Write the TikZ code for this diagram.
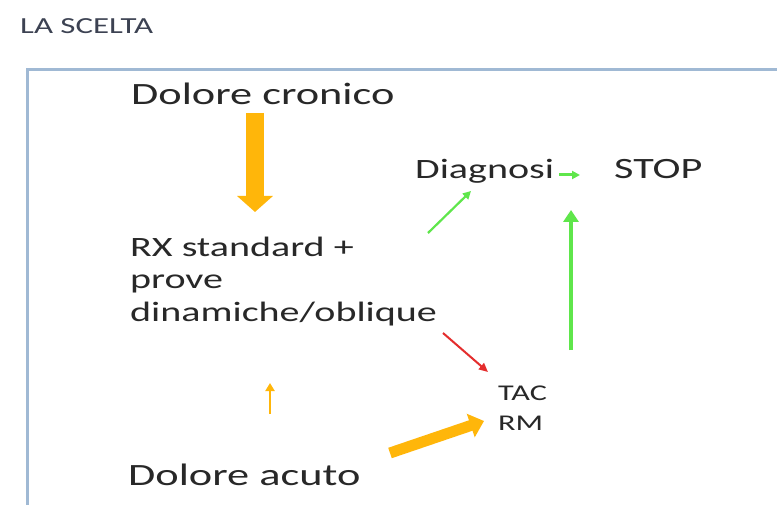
\documentclass[tikz,border=0pt]{standalone}
\usepackage{fontspec}
\setmainfont[FakeStretch=1.43]{Carlito}
\usetikzlibrary{arrows.meta}
\definecolor{boxblue}{RGB}{160,185,212}
\definecolor{txt}{RGB}{40,40,40}
\definecolor{ttl}{RGB}{60,66,82}
\definecolor{orng}{RGB}{255,182,10}
\definecolor{grn}{RGB}{95,230,75}
\definecolor{rd}{RGB}{228,45,45}
\begin{document}
\begin{tikzpicture}[x=1pt,y=-1pt,
  lbl/.style={anchor=base west,inner sep=0pt,text=txt},
  big/.style={lbl,font=\fontsize{31}{36}\selectfont},
  mid/.style={lbl,font=\fontsize{28}{32}\selectfont},
  sml/.style={lbl,font=\fontsize{22.5}{30}\selectfont},
  ttlstyle/.style={anchor=base west,inner sep=0pt,text=ttl,font=\fontsize{23}{24}\selectfont},
  fatarrow/.style={orng,line width=18pt,-{Triangle[width=35pt,length=16pt]}},
  diagarrow/.style={orng,line width=11pt,-{Triangle[width=24pt,length=14pt]}},
  thinorng/.style={orng,line width=2.5pt,-{Triangle[width=9pt,length=8pt]}},
  greenarrow/.style={grn,line width=2.2pt,-{Triangle[width=8pt,length=8pt]}},
  greenthick/.style={grn,line width=3.5pt,-{Triangle[width=15pt,length=12pt]}},
  redarrow/.style={rd,line width=2pt,-{Triangle[width=8pt,length=9pt]}}]
\useasboundingbox (0,0) rectangle (777,505);
\fill[white] (0,0) rectangle (777,505);
% frame
\draw[boxblue,line width=3pt] (27,505) -- (27,70) -- (777,70);
% title
\node[ttlstyle] (title) at (20,34) {LA SCELTA};
% texts
\node[big] (cron) at (131,105) {Dolore cronico};
\node[mid] (rx1) at (130,257) {RX standard +};
\node[mid] (rx2) at (130,289) {prove};
\node[mid] (rx3) at (130,321) {dinamiche/oblique};
\node[mid] (diag) at (415,179) {Diagnosi};
\node[mid] (stop) at (614,179) {\fontsize{29.5}{32}\selectfont STOP};
\node[sml] (tac) at (498,400) {TAC};
\node[sml] (rm) at (498,430) {RM};
\node[big] (acuto) at (128,485) {Dolore acuto};
% arrow endpoints
\coordinate (a1s) at (255,113);
\coordinate (a1e) at (255,212);
\coordinate (a2s) at (270,414);
\coordinate (a2e) at (270,383);
\coordinate (a3s) at (390,453);
\coordinate (a3e) at (484,421);
\coordinate (a4s) at (443,333);
\coordinate (a4e) at (488,372);
\coordinate (a5s) at (428,233);
\coordinate (a5e) at (471,191);
\coordinate (a6s) at (559,175);
\coordinate (a6e) at (580,175);
\coordinate (a7s) at (571,350);
\coordinate (a7e) at (571,210);
% arrows
\draw[fatarrow] (a1s) -- (a1e);
\draw[thinorng] (a2s) -- (a2e);
\draw[diagarrow] (a3s) -- (a3e);
\draw[redarrow] (a4s) -- (a4e);
\draw[greenarrow] (a5s) -- (a5e);
\draw[greenarrow,line width=3pt] (a6s) -- (a6e);
\draw[greenthick] (a7s) -- (a7e);
\end{tikzpicture}
\end{document}
